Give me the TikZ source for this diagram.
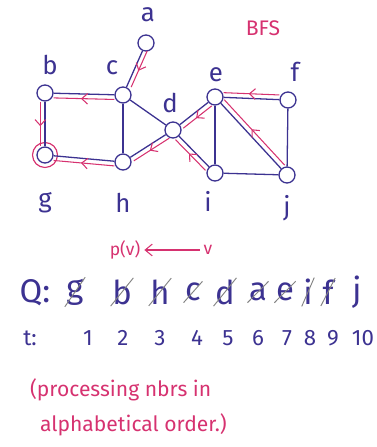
\documentclass[tikz,border=0pt]{standalone}
\usepackage{fontspec}
\setmainfont{Fira Sans}
\usetikzlibrary{arrows.meta,decorations.markings,shapes.misc}
\definecolor{ink}{RGB}{60,50,145}
\definecolor{pen}{RGB}{214,50,112}
\definecolor{strike}{RGB}{130,130,130}
\begin{document}
\begin{tikzpicture}[x=0.03cm, y=-0.03cm,
    vertex/.style={circle, draw=ink, line width=1.1pt, minimum size=0.48cm, inner sep=0pt},
    edge/.style={draw=ink, line width=1.1pt},
    tree/.style={draw=pen, line width=0.9pt,
      decoration={markings, mark=at position 0.55 with {\arrow{Straight Barb[length=5pt,width=9pt]}}},
      postaction={decorate}},
    lbl/.style={text=ink, font=\fontsize{22}{26}\selectfont},
    qitem/.style={text=ink, font=\fontsize{28}{32}\selectfont, inner sep=1pt},
    gone/.style={qitem, strike out, draw=strike, line width=0.8pt},
    tick/.style={text=ink, font=\fontsize{19}{22}\selectfont},
    note/.style={text=pen, font=\fontsize{18}{21}\selectfont, anchor=west}
  ]
    \useasboundingbox (0,0) rectangle (377,447);

    % vertices
    \node[vertex] (a) at (146,43) {};
    \node[vertex] (b) at (45,93) {};
    \node[vertex] (c) at (123,95) {};
    \node[vertex] (d) at (173,130) {};
    \node[vertex] (e) at (215,97) {};
    \node[vertex] (f) at (288,100) {};
    \node[vertex] (g) at (45,155) {};
    \node[vertex] (h) at (123,162) {};
    \node[vertex] (i) at (215,173) {};
    \node[vertex] (j) at (287,175) {};
    \node[circle, draw=pen, line width=1pt, minimum size=0.75cm] (gring) at (g) {};

    % labels
    \node[lbl] (la) at (148,15) {a};
    \node[lbl] (lb) at (50,65) {b};
    \node[lbl] (lc) at (112,68) {c};
    \node[lbl] (ld) at (170,103) {d};
    \node[lbl] (le) at (216,75) {e};
    \node[lbl] (lf) at (295,72) {f};
    \node[lbl] (lg) at (45,203) {g};
    \node[lbl] (lh) at (123,203) {h};
    \node[lbl] (li) at (208,201) {i};
    \node[lbl] (lj) at (287,208) {j};
    \node[text=pen, font=\fontsize{18}{20}\selectfont] (title) at (263,28) {BFS};

    % edges
    \foreach \u/\w in {a/c, b/c, b/g, c/h, c/d, g/h, h/d, d/e, d/i, e/i, e/f, e/j, f/j, i/j}
      \draw[edge] (\u) -- (\w);

    % BFS tree, child to parent
    \draw[tree, transform canvas={yshift=-4pt}] (c) -- (b);
    \draw[tree, transform canvas={xshift=4pt}] (a) -- (c);
    \draw[tree, transform canvas={xshift=-4pt}] (b) -- (g);
    \draw[tree, transform canvas={yshift=-4pt}] (h) -- (g);
    \draw[tree, transform canvas={xshift=3pt, yshift=-3pt}] (d) -- (h);
    \draw[tree, transform canvas={xshift=3pt, yshift=-3pt}] (e) -- (d);
    \draw[tree, transform canvas={xshift=-3pt, yshift=-3pt}] (i) -- (d);
    \draw[tree, transform canvas={yshift=4pt}] (f) -- (e);
    \draw[tree, transform canvas={xshift=3pt, yshift=3pt}] (j) -- (e);

    % legend
    \node[text=pen, font=\fontsize{15}{17}\selectfont] (pv) at (125,250) {p(v)};
    \node[text=pen, font=\fontsize{15}{17}\selectfont] (v) at (208,250) {v};
    \draw[pen, line width=0.9pt, -{Straight Barb[length=6pt,width=10pt]}] (v) -- (pv);

    % queue
    \node[qitem] (Q) at (35,293) {Q:};
    \foreach \v/\x in {g/75, b/122, h/160, c/193, d/225, a/258, e/285, i/308, f/328}
      \node[gone] (q\v) at (\x,292) {\v};
    \node[qitem] (qj) at (357,292) {j};

    % times
    \node[tick] (T) at (30,338) {t:};
    \foreach \n/\x in {1/88, 2/123, 3/160, 4/197, 5/228, 6/258, 7/287, 8/310, 9/333, 10/363}
      \node[tick] (t\n) at (\x,338) {\n};

    % note
    \node[note] (note1) at (26,390) {(processing nbrs in};
    \node[note] (note2) at (36,425) {alphabetical order.)};
  \end{tikzpicture}
\end{document}
